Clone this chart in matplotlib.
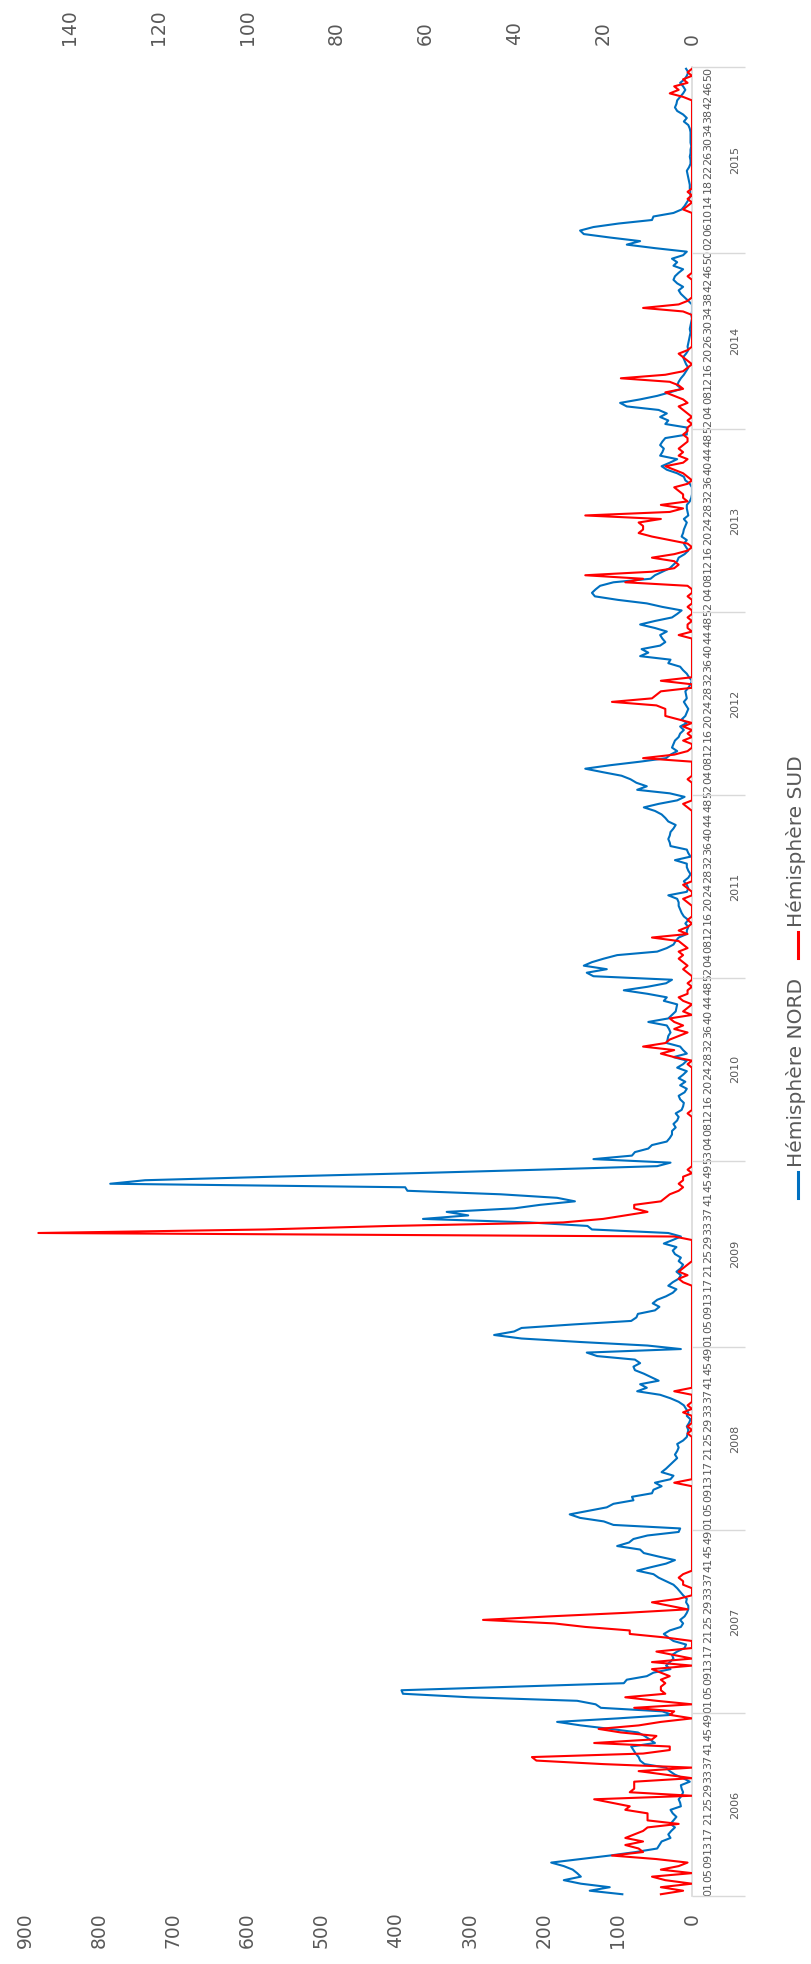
import numpy as np
import matplotlib.pyplot as plt
from matplotlib.lines import Line2D

years = [2006, 2007, 2008, 2009, 2010, 2011, 2012, 2013, 2014, 2015]
week_numbers = {y: list(range(1, 53)) for y in years}
week_numbers[2009] = list(range(1, 54))
week_numbers[2014] = list(range(1, 21)) + list(range(23, 53))
week_numbers[2015] = list(range(1, 54))

# Hémisphère NORD (axe principal 0-900)
n2006 = [94, 138, 111, 150, 173, 150, 155, 161, 173, 190, 150, 111, 76, 47, 44, 41, 29, 32, 28, 23,
         29, 25, 21, 26, 29, 15, 16, 18, 14, 12, 14, 15, 3, 12, 23, 30, 35, 64, 70, 72,
         76, 79, 82, 50, 57, 64, 73, 110, 150, 182, 100, 27]
n2007 = [40, 123, 130, 155, 300, 390, 392, 240, 92, 88, 61, 52, 29, 35, 30, 25, 27, 20, 10, 8,
         25, 32, 38, 30, 15, 12, 16, 10, 7, 5, 5, 8, 7, 12, 16, 20, 25, 35, 45, 52,
         74, 55, 35, 23, 45, 65, 70, 101, 85, 79, 60, 18]
n2008 = [16, 106, 119, 151, 165, 140, 115, 106, 79, 81, 54, 52, 41, 50, 29, 25, 41, 35, 30, 25,
         20, 23, 20, 18, 20, 12, 7, 6, 5, 7, 4, 2, 7, 5, 8, 11, 18, 29, 43, 74,
         61, 70, 45, 55, 65, 77, 79, 70, 77, 128, 142, 15]
n2009 = [60, 150, 230, 267, 240, 230, 160, 82, 75, 73, 50, 44, 53, 47, 35, 26, 21, 32, 26, 18,
         15, 21, 15, 12, 18, 15, 23, 26, 21, 38, 26, 15, 32, 135, 141, 219, 363, 302, 331, 240,
         205, 158, 182, 258, 384, 387, 785, 738, 565, 375, 205, 47, 29]
n2010 = [133, 81, 77, 59, 54, 34, 30, 27, 27, 22, 25, 20, 18, 22, 14, 12, 11, 16, 18, 10,
         7, 16, 9, 18, 12, 7, 20, 12, 7, 25, 7, 12, 16, 34, 33, 32, 29, 31, 34, 59,
         32, 27, 22, 21, 20, 38, 34, 60, 92, 60, 35, 27]
n2011 = [133, 142, 115, 146, 135, 119, 101, 47, 34, 25, 22, 18, 7, 7, 5, 9, 5, 11, 14, 16,
         18, 18, 20, 32, 7, 5, 7, 11, 5, 2, 5, 7, 7, 23, 2, 5, 7, 29, 30, 32,
         30, 29, 25, 22, 32, 36, 41, 50, 65, 45, 20, 10]
n2012 = [30, 74, 61, 75, 83, 95, 120, 144, 110, 70, 35, 29, 20, 27, 25, 23, 18, 16, 11, 16,
         7, 14, 9, 7, 5, 8, 11, 7, 8, 9, 5, 2, 0, 4, 7, 12, 16, 32, 29, 70,
         59, 68, 43, 36, 40, 43, 34, 50, 70, 50, 27, 20]
n2013 = [14, 40, 61, 100, 131, 135, 130, 124, 106, 56, 50, 40, 30, 25, 20, 18, 10, 5, 8, 11,
         7, 14, 12, 11, 9, 7, 11, 5, 6, 7, 7, 3, 1, 0, 0, 0, 3, 9, 11, 20,
         34, 41, 30, 20, 43, 40, 38, 43, 40, 36, 7, 7]
n2014 = [7, 36, 32, 43, 34, 45, 88, 97, 70, 47, 30, 14, 20, 18, 15, 11, 8, 5, 8, 10,
         12, 8, 5, 6, 5, 4, 3, 2, 3, 2, 1, 0, 1, 0, 0, 0, 5, 10, 15, 18,
         12, 20, 25, 23, 18, 12, 25, 20, 27, 12]
n2015 = [7, 50, 88, 70, 110, 146, 151, 133, 99, 54, 52, 25, 14, 10, 7, 4, 2, 2, 3, 3,
         4, 5, 6, 7, 4, 2, 2, 3, 2, 2, 1, 2, 2, 2, 2, 3, 5, 11, 7, 12,
         20, 23, 21, 20, 16, 12, 9, 12, 16, 10, 7, 5, 8]

# Hémisphère SUD (axe secondaire 0-150)
s2006 = [7, 2, 7, 0, 6, 9, 0, 7, 3, 1, 8, 18, 11, 12, 15, 11, 15, 13, 11, 10,
         3, 10, 10, 10, 15, 14, 18, 22, 0, 14, 13, 13, 13, 0, 6, 12, 0, 20, 35, 36,
         11, 5, 5, 22, 9, 8, 16, 21, 12, 7, 0, 5]
s2007 = [4, 13, 0, 8, 15, 6, 7, 7, 6, 7, 5, 7, 9, 0, 9, 0, 4, 8, 0, 0,
         0, 6, 14, 14, 24, 31, 47, 32, 15, 1, 5, 9, 3, 0, 0, 0, 2, 2, 3, 2,
         0, 0, 0, 0, 0, 0, 0, 0, 0, 0, 0, 0]
s2008 = [0, 0, 0, 0, 0, 0, 0, 0, 0, 0, 0, 0, 0, 4, 0, 0, 0, 0, 0, 0,
         0, 0, 0, 0, 0, 0, 0, 1, 0, 1, 0, 0, 0, 2, 0, 1, 0, 0, 0, 4,
         0, 0, 0, 0, 0, 0, 0, 0, 0, 0, 0, 0]
s2009 = [0, 0, 0, 0, 0, 0, 0, 0, 0, 0, 0, 0, 0, 0, 0, 0, 0, 0, 2, 3,
         1, 3, 2, 1, 0, 0, 0, 0, 0, 0, 0, 4, 147, 96, 68, 29, 20, 15, 10, 13,
         13, 7, 6, 5, 3, 2, 3, 2, 2, 0, 1, 0, 0]
s2010 = [0, 0, 0, 0, 0, 0, 0, 0, 0, 0, 0, 0, 0, 1, 0, 0, 0, 0, 0, 0,
         0, 0, 0, 0, 0, 0, 0, 1, 0, 4, 7, 4, 11, 6, 5, 3, 1, 4, 2, 4,
         5, 0, 2, 1, 0, 2, 3, 1, 1, 0, 1, 0]
s2011 = [0, 1, 2, 1, 2, 3, 2, 3, 1, 2, 3, 9, 1, 3, 1, 0, 1, 0, 0, 0,
         0, 1, 2, 0, 0, 1, 2, 0, 0, 0, 0, 0, 0, 0, 0, 0, 0, 0, 0, 0,
         0, 0, 0, 0, 0, 0, 0, 0, 1, 2, 0, 0]
s2012 = [0, 0, 0, 0, 1, 0, 0, 0, 0, 0, 11, 4, 1, 0, 0, 2, 0, 1, 0, 2,
         0, 3, 6, 6, 6, 8, 18, 9, 8, 7, 0, 0, 7, 0, 0, 0, 0, 0, 0, 0,
         0, 0, 0, 0, 0, 3, 0, 1, 1, 0, 1, 0]
s2013 = [0, 1, 0, 0, 1, 0, 0, 1, 15, 11, 24, 9, 4, 3, 4, 9, 4, 1, 0, 1,
         5, 9, 12, 11, 11, 12, 7, 24, 5, 2, 7, 1, 2, 2, 3, 4, 1, 0, 1, 2,
         4, 6, 2, 1, 3, 2, 3, 2, 1, 1, 2, 1]
s2014 = [1, 0, 1, 0, 1, 2, 3, 1, 2, 4, 6, 2, 3, 5, 16, 6, 2, 1, 0, 1,
         2, 3, 1, 0, 0, 0, 0, 0, 0, 0, 0, 0, 0, 2, 11, 3, 1, 0, 0, 0,
         0, 0, 0, 1, 0, 0, 0, 0, 0, 0]
s2015 = [0, 0, 0, 0, 0, 0, 0, 0, 0, 0, 0, 0, 2, 1, 0, 1, 0, 1, 0, 0,
         0, 0, 0, 0, 0, 0, 0, 0, 0, 0, 0, 0, 0, 0, 0, 0, 0, 0, 0, 0,
         0, 0, 0, 0, 2, 5, 3, 4, 1, 2, 0, 1, 0]

nord = n2006 + n2007 + n2008 + n2009 + n2010 + n2011 + n2012 + n2013 + n2014 + n2015
sud = s2006 + s2007 + s2008 + s2009 + s2010 + s2011 + s2012 + s2013 + s2014 + s2015

cat_weeks = []
cat_years = []
for y in years:
    for w in week_numbers[y]:
        cat_weeks.append(w)
        cat_years.append(y)
idx = np.arange(len(cat_weeks))
assert len(nord) == len(idx) and len(sud) == len(idx)

grey = '#595959'
W, H = 811, 1964

fig = plt.figure(figsize=(W / 100, H / 100), dpi=100)
ax = fig.add_axes([25 / W, 68 / H, 667 / W, 1829 / H])

ax.plot(nord, idx, color='#0070C0', lw=1.5, solid_joinstyle='round')
ax.set_xlim(900, 0)
ax.set_xticks(range(0, 901, 100))
ax.tick_params(axis='x', bottom=True, top=False, length=0, pad=12,
               labelsize=13.5, labelcolor=grey, labelrotation=90)

# axe des catégories (semaines / années) à droite ; le texte commence au début de la catégorie
ax.yaxis.tick_right()
ax.set_yticks(idx[::4] - 0.45)
ax.set_yticklabels(['%02d' % w for w in cat_weeks[::4]], rotation=90,
                   va='bottom', ha='left', fontsize=8, color=grey)
ax.tick_params(axis='y', which='major', right=True, left=False, length=0, pad=8)

counts = [len(week_numbers[y]) for y in years]
bounds = np.concatenate([[0], np.cumsum(counts)]) - 0.5
ax.set_yticks(bounds, minor=True)
ax.tick_params(axis='y', which='minor', right=True, left=False, length=38,
               width=1, color='#d9d9d9')

for y in years:
    pos = [i for i in idx if cat_years[i] == y]
    ax.text((730 - 25) / 667, np.mean(pos), str(y), transform=ax.get_yaxis_transform(),
            rotation=90, ha='left', va='center', fontsize=8, color=grey)

for s in ['left', 'top', 'bottom']:
    ax.spines[s].set_visible(False)
ax.spines['right'].set_color('#d9d9d9')
ax.spines['right'].set_linewidth(1.2)

ax2 = ax.twiny()
ax2.plot(sud, idx, color='#FF0000', lw=1.5, solid_joinstyle='round')
ax2.set_xlim(150, 0)
ax2.set_xticks(range(0, 141, 20))
ax2.tick_params(axis='x', top=True, bottom=False, length=0, pad=16,
                labelsize=13.5, labelcolor=grey, labelrotation=90)
for s in ax2.spines.values():
    s.set_visible(False)

ax.set_ylim(-0.5, len(idx) - 0.5)

# légende
fig.text(796 / W, 1 - 1167 / H, 'Hémisphère NORD', rotation=90, ha='center', va='bottom',
         fontsize=14.5, color=grey)
fig.add_artist(Line2D([797.5 / W] * 2, [1 - 1172 / H, 1 - 1198 / H],
                      transform=fig.transFigure, color='#0070C0', lw=2.2))
fig.text(796 / W, 1 - 927 / H, 'Hémisphère SUD', rotation=90, ha='center', va='bottom',
         fontsize=14.5, color=grey)
fig.add_artist(Line2D([797.5 / W] * 2, [1 - 932 / H, 1 - 958 / H],
                      transform=fig.transFigure, color='#FF0000', lw=2.2))

fig.savefig('out.png', dpi=100)
